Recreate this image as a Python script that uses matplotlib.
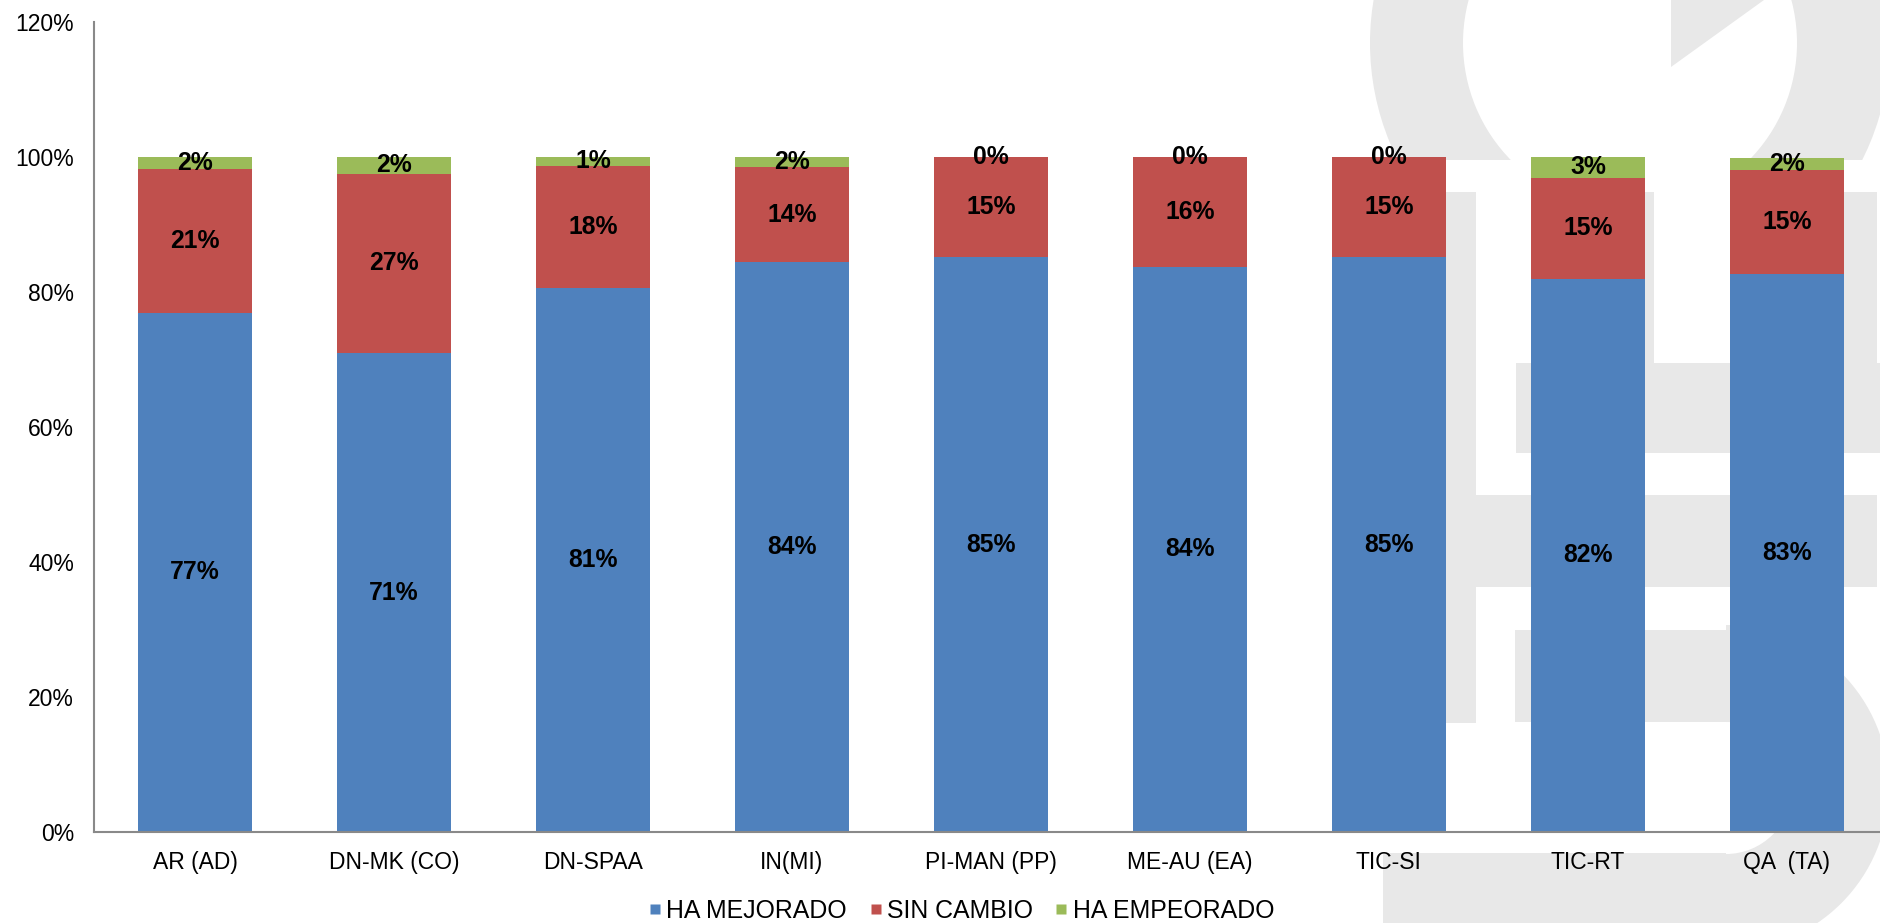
import matplotlib
matplotlib.use("Agg")
import matplotlib.pyplot as plt
from matplotlib.patches import Rectangle, Wedge, Polygon
from matplotlib.lines import Line2D
import numpy as np

plt.rcParams['font.family'] = ['Liberation Sans', 'DejaVu Sans']

categories = ["AR (AD)", "DN-MK (CO)", "DN-SPAA", "IN(MI)", "PI-MAN (PP)",
              "ME-AU (EA)", "TIC-SI", "TIC-RT", "QA  (TA)"]
ha_mejorado = [76.9, 70.9, 80.6, 84.4, 85.1, 83.7, 85.1, 81.9, 82.6]
sin_cambio = [21.3, 26.6, 18.0, 14.0, 14.9, 16.3, 14.9, 15.0, 15.4]
ha_empeorado = [1.8, 2.4, 1.4, 1.6, 0.0, 0.0, 0.0, 3.1, 1.8]
series_names = ["HA MEJORADO", "SIN CAMBIO", "HA EMPEORADO"]
colors = ["#4F81BD", "#C0504D", "#9BBB59"]
yticks = [0, 20, 40, 60, 80, 100, 120]

W, H = 1880, 923
fig = plt.figure(figsize=(W / 100, H / 100), dpi=100)

# background watermark (decorative), pixel coordinates
bg = fig.add_axes([0, 0, 1, 1], zorder=0)
bg.set_xlim(0, W)
bg.set_ylim(H, 0)
bg.axis('off')
wm = "#E8E8E8"
clip = Rectangle((0, -400), W, 560, transform=bg.transData)
arch = Wedge((1630, 43), 260, 0, 360, width=93, facecolor=wm, edgecolor='none')
bg.add_patch(arch)
arch.set_clip_path(clip)
bg.add_patch(Polygon([(1671, 0), (1671, 67), (1764, 0)], closed=True,
                     facecolor=wm, edgecolor='none'))
for (x0, y0, x1, y1) in [(1370, 192, 1476, 723), (1540, 192, 1654, 453),
                         (1844, 192, 1877, 453), (1516, 363, 1880, 453),
                         (1476, 495, 1877, 587), (1515, 630, 1726, 722),
                         (1383, 853, 1726, 923)]:
    bg.add_patch(Rectangle((x0, y0), x1 - x0, y1 - y0, facecolor=wm, edgecolor='none'))
bg.add_patch(Wedge((1726, 788), 163, -90, 90, width=97, facecolor=wm, edgecolor='none'))

ax = fig.add_axes([93.5 / W, 1 - 832 / H, 1 - 93.5 / W, (832 - 21.6) / H], zorder=1)
ax.patch.set_alpha(0)

x = np.arange(len(categories))
bottom = np.zeros(len(categories))
for vals, c in zip([ha_mejorado, sin_cambio, ha_empeorado], colors):
    v = np.array(vals)
    ax.bar(x, v, 0.573, bottom=bottom, color=c, edgecolor='none')
    for xi, b, h in zip(x, bottom, v):
        ax.text(xi, b + h / 2, f"{round(h):.0f}%", ha='center', va='center',
                fontsize=17.8, fontweight='bold', color='black')
    bottom = bottom + v

ax.set_xlim(-0.51, 8.468)
ax.set_ylim(0, 120)
ax.set_yticks(yticks)
ax.set_yticklabels([f"{t}%" for t in yticks], fontsize=16.5)
ax.set_xticks(x)
ax.set_xticklabels(categories, fontsize=16.5)
ax.tick_params(axis='both', length=0)
ax.tick_params(axis='y', pad=14)
ax.tick_params(axis='x', pad=14)
for s in ['top', 'right']:
    ax.spines[s].set_visible(False)
for s in ['left', 'bottom']:
    ax.spines[s].set_color('#898989')
    ax.spines[s].set_linewidth(1.5)

handles = [Line2D([], [], linestyle='none', marker='s', markersize=7.5,
                  markerfacecolor=c, markeredgecolor='none') for c in colors]
fig.legend(handles, series_names, loc='center', bbox_to_anchor=(961 / W, 1 - 911 / H),
           ncol=3, frameon=False, fontsize=17.9, handlelength=0.6,
           handletextpad=0.15, columnspacing=0.85, borderpad=0)

fig.savefig("out.png", dpi=100)
